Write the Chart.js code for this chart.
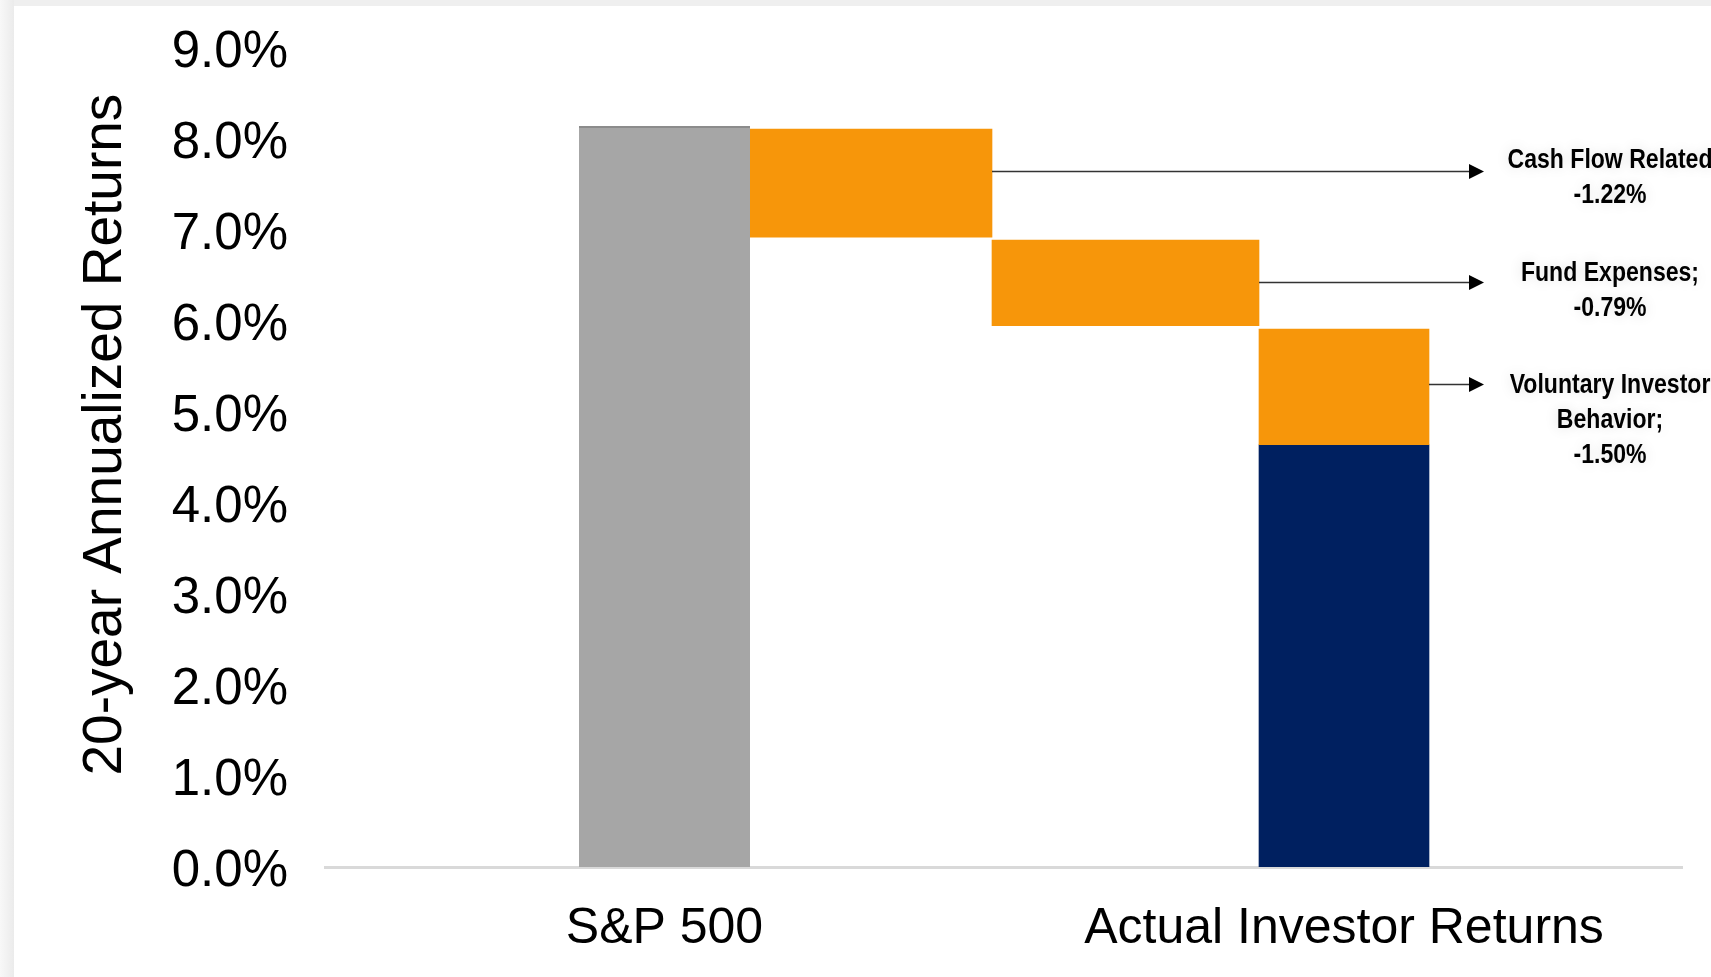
<!DOCTYPE html>
<html>
<head>
<meta charset="utf-8">
<title>S&amp;P 500 vs Actual Investor Returns</title>
<script src="https://cdn.jsdelivr.net/npm/chart.js@4.4.1/dist/chart.umd.min.js"></script>
<style>
  html, body { margin: 0; padding: 0; }
  body { width: 1711px; height: 977px; overflow: hidden; position: relative;
         background: linear-gradient(to right, #f8f8f8, #ebebeb 14px, #efefef 14px); }
  #panel { position: absolute; left: 14px; top: 6px; right: 0; bottom: 0; background: #fff; }
  #wrap { position: absolute; left: 0; top: 0; width: 1711px; height: 977px; }
</style>
</head>
<body>
<div id="panel"></div>
<div id="wrap"><canvas id="chartCanvas"></canvas></div>
<script>
const ctx = document.getElementById('chartCanvas').getContext('2d');

// ------- values (20-year annualized return, %)
const categories = ['S&P 500', 'Cash Flow Related', 'Fund Expenses', 'Voluntary Investor Behavior', 'Actual Investor Returns'];
const spReturn = 8.14;
const dragTop = [8.11, 6.89, 5.91];      // top of each orange drag block
const dragBottom = [6.92, 5.95, 4.64];   // bottom of each orange drag block
const actualReturn = 4.64;
const xTickLabels = ['S&P 500', 'Actual Investor Returns'];
const noteLines = [
  ['Cash Flow Related', '-1.22%'],
  ['Fund Expenses;', '-0.79%'],
  ['Voluntary Investor', 'Behavior;', '-1.50%']
];
const arrowAt = [7.65, 6.43, 5.31];      // y value each arrow points from

// ------- layout (pixels)
const plotBox = { left: 325, right: 1682, top: 48, bottom: 867 };
const columnWidths = [171, 242, 267, 170];
const firstColumnLeft = 254;   // gap between y axis and grey bar
const arrowTip = 1159;         // x units = px from plot left
const noteCenter = 1285;
const noteShift = [-4, -2, 8];
const noteLineGap = 35;

const colors = { sp: '#a6a6a6', spEdge: '#8c8c8c', drag: '#f7960a', actual: '#002060', axis: '#d9d9d9' };

Chart.defaults.font.family = '"Liberation Sans", Arial, sans-serif';

// columns sit side by side, each centre from the running width
const columnCenters = [];
let edge = firstColumnLeft;
columnWidths.forEach(w => { columnCenters.push(edge + w / 2); edge += w; });

function barSet(label, col, lo, hi, color, extra) {
  return Object.assign({
    label,
    data: [{ x: columnCenters[col], y: [lo, hi] }],
    backgroundColor: color,
    barThickness: columnWidths[col],
    borderWidth: 0
  }, extra || {});
}

const datasets = [
  barSet(categories[0], 0, 0, spReturn, colors.sp,
    { borderWidth: { top: 2, left: 0, right: 0, bottom: 0 }, borderColor: colors.spEdge, borderSkipped: false }),
  ...dragTop.map((t, i) => barSet(categories[i + 1], i + 1, dragBottom[i], t, colors.drag)),
  barSet(categories[4], 3, 0, actualReturn, colors.actual)
];

// arrows + bold notes on the right
const dragNotes = {
  id: 'dragNotes',
  afterDatasetsDraw(chart) {
    const { ctx, scales: { x, y } } = chart;
    const tipX = x.getPixelForValue(arrowTip);
    const cx = x.getPixelForValue(noteCenter);
    ctx.save();
    ctx.font = 'bold 27px "Liberation Sans Narrow", "Liberation Sans", Arial, sans-serif';
    const squeeze = Math.min(1.05, 205 / ctx.measureText(noteLines[0][0]).width);
    noteLines.forEach((lines, i) => {
      const bar = chart.getDatasetMeta(i + 1).data[0];
      const p = bar.getProps(['x', 'width'], true);
      const startX = p.x + p.width / 2;
      const ay = Math.round(y.getPixelForValue(arrowAt[i])) + 0.5;
      ctx.strokeStyle = '#333';
      ctx.lineWidth = 1.5;
      ctx.beginPath(); ctx.moveTo(startX, ay); ctx.lineTo(tipX - 12, ay); ctx.stroke();
      ctx.fillStyle = '#000';
      ctx.beginPath(); ctx.moveTo(tipX, ay); ctx.lineTo(tipX - 15, ay - 7.5); ctx.lineTo(tipX - 15, ay + 7.5); ctx.closePath(); ctx.fill();

      ctx.save();
      ctx.shadowColor = 'rgba(0,0,0,0.14)';
      ctx.shadowBlur = 14;
      ctx.textAlign = 'center';
      ctx.textBaseline = 'alphabetic';
      ctx.translate(cx, ay + noteShift[i]);
      ctx.scale(squeeze, 1);
      lines.forEach((s, k) => ctx.fillText(s, 0, k * noteLineGap));
      ctx.restore();
    });
    ctx.restore();
  }
};

const chart = new Chart(ctx, {
  type: 'bar',
  data: { datasets },
  options: {
    responsive: true,
    maintainAspectRatio: false,
    animation: false,
    layout: { padding: { left: 0, top: plotBox.top, right: 1711 - plotBox.right, bottom: 0 } },
    datasets: { bar: { grouped: false } },
    plugins: { legend: { display: false }, tooltip: { enabled: false } },
    scales: {
      x: {
        type: 'linear',
        offset: false,
        min: 0,
        max: plotBox.right - plotBox.left,
        grid: { display: false, drawTicks: false },
        border: { display: true, color: colors.axis, width: 3 },
        afterFit: s => { s.height = 977 - plotBox.bottom; },
        afterBuildTicks: s => { s.ticks = [columnCenters[0], columnCenters[3]].map(v => ({ value: v })); },
        ticks: {
          autoSkip: false, maxRotation: 0, padding: 32, color: '#000',
          font: { size: 50 },
          callback: (v, i) => xTickLabels[i]
        }
      },
      y: {
        min: 0,
        max: 9,
        // hidden tick marks keep the labels off the plot without padding the top
        grid: { display: false, drawTicks: true, tickLength: 30 },
        border: { display: false },
        afterFit: s => { s.width = plotBox.left; },
        ticks: {
          stepSize: 1, padding: 7, labelOffset: 5, color: '#000',
          font: { size: 51 },
          callback: v => v.toFixed(1) + '%'
        },
        title: {
          display: true,
          // leading no-break spaces nudge the centred title up the axis a little
          text: '\u00a0\u00a0\u00a020-year Annualized Returns',
          color: '#000',
          font: { size: 55 }, padding: { top: 73, bottom: 0 }
        }
      }
    }
  },
  plugins: [dragNotes]
});
</script>
</body>
</html>
